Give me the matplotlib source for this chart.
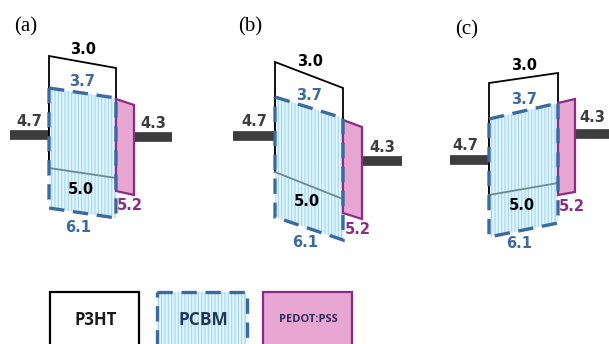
import matplotlib
matplotlib.use("Agg")
import matplotlib.pyplot as plt
from matplotlib.patches import Polygon, Rectangle

# ---- data (energy levels, eV) ----
panel_labels = ['(a)', '(b)', '(c)']
p3ht_lumo, p3ht_homo = '3.0', '5.0'
pcbm_lumo, pcbm_homo = '3.7', '6.1'
pedot_level = '5.2'
left_electrode, right_electrode = '4.7', '4.3'
legend_names = ['P3HT', 'PCBM', 'PEDOT:PSS']

# ---- schematic layout (pixel-like units of the canvas) ----
# x: left edge of active layer, right edge, right edge of PEDOT, electrode start, electrode end
xs = [(49, 116, 134, 10, 172), (275, 343, 362, 233, 402), (489, 558, 575, 450, 612)]
# level heights at (left, right) edge
p3ht_top = [(56, 68), (62, 88), (83, 73)]
p3ht_bot = [(168, 178), (172, 199), (195, 183)]
pcbm_top = [(88, 98), (97, 118), (119, 103)]
pcbm_bot = [(208, 218), (217, 240), (237, 223)]
pedot_top = [(99, 105), (120, 127), (103, 99)]
pedot_bot = [(191, 195), (213, 219), (195, 192)]
elec_y = [(135, 137), (136, 161), (160, 134)]
panel_label_pos = [(26, 27), (250, 27), (467, 30)]

W, H = 609, 344
fig = plt.figure(figsize=(W / 100, H / 100), dpi=100)
ax = fig.add_axes([0, 0, 1, 1])
ax.set_xlim(0, W)
ax.set_ylim(H, 0)
ax.axis('off')

plt.rcParams['hatch.linewidth'] = 0.9

BLUE = '#3b6aa0'
STRIPE = '#a6daf0'
BG = '#e3f5fc'
PINK = '#e8a6d3'
PURPLE = '#8a2b86'
DARK = '#3d3d3d'
GRAYLINE = '#6d8a8e'
lab_font = dict(family='DejaVu Sans', fontweight='bold', fontsize=10.5)

for i in range(3):
    x0, x1, x2, eL, eR = xs[i]
    # electrodes
    ax.plot([eL, x0], [elec_y[i][0]] * 2, color=DARK, lw=7.0, solid_capstyle='butt', zorder=1)
    ax.plot([x2, eR], [elec_y[i][1]] * 2, color=DARK, lw=7.0, solid_capstyle='butt', zorder=1)
    # P3HT outline
    p3 = Polygon([(x0, p3ht_bot[i][0]), (x0, p3ht_top[i][0]), (x1, p3ht_top[i][1]),
                  (x1, p3ht_bot[i][1])], closed=False, fill=True, facecolor='white',
                 edgecolor='black', lw=1.3, zorder=2)
    ax.add_patch(p3)
    # PCBM fill with stripes
    pc_pts = [(x0, pcbm_top[i][0]), (x1, pcbm_top[i][1]), (x1, pcbm_bot[i][1]), (x0, pcbm_bot[i][0])]
    ax.add_patch(Polygon(pc_pts, closed=True, facecolor=BG, edgecolor='none', lw=0, zorder=3))
    ax.add_patch(Polygon(pc_pts, closed=True, facecolor='none', edgecolor=STRIPE, lw=0,
                         hatch='|||||', zorder=3.1))
    # P3HT edges seen through PCBM
    ax.plot([x0, x0], [pcbm_top[i][0], p3ht_bot[i][0]], color='black', lw=1.3, zorder=3.2)
    ax.plot([x1, x1], [pcbm_top[i][1], p3ht_bot[i][1]], color='black', lw=1.3, zorder=3.2)
    ax.plot([x0, x1], [p3ht_bot[i][0], p3ht_bot[i][1]], color=GRAYLINE, lw=1.3, zorder=3.3)
    # PCBM dashed outline
    ax.add_patch(Polygon(pc_pts, closed=True, facecolor='none', edgecolor=BLUE, lw=2.4,
                         linestyle=(0, (4.6, 2.6)), zorder=4))
    # PEDOT:PSS
    ax.add_patch(Polygon([(x1, pedot_top[i][0]), (x2, pedot_top[i][1]), (x2, pedot_bot[i][1]),
                          (x1, pedot_bot[i][0])], closed=True, facecolor=PINK,
                         edgecolor=PURPLE, lw=1.6, zorder=3.5))
    xm = (x0 + x1) / 2
    # labels
    ax.text(xm + 1, (p3ht_top[i][0] + p3ht_top[i][1]) / 2 - 13, p3ht_lumo, color='black',
            ha='center', va='center', zorder=6, **lab_font)
    ax.text(xm, (pcbm_top[i][0] + pcbm_top[i][1]) / 2 - 12, pcbm_lumo, color=BLUE,
            ha='center', va='center', zorder=6, **lab_font)
    ax.text(xm - 2, (p3ht_bot[i][0] + p3ht_bot[i][1]) / 2 + 16, p3ht_homo, color='black',
            ha='center', va='center', zorder=6, **lab_font)
    ax.text(xm - 4, (pcbm_bot[i][0] + pcbm_bot[i][1]) / 2 + 14, pcbm_homo, color=BLUE,
            ha='center', va='center', zorder=6, **lab_font)
    ax.text((x1 + x2) / 2 + 5, (pedot_bot[i][0] + pedot_bot[i][1]) / 2 + 13, pedot_level,
            color=PURPLE, ha='center', va='center', zorder=6, **lab_font)
    ax.text((eL + x0) / 2 - (4 if i == 2 else 0), elec_y[i][0] - 14, left_electrode, color=DARK,
            ha='center', va='center', zorder=6, **lab_font)
    ax.text(min((x2 + eR) / 2, 592), elec_y[i][1] - (17 if i == 2 else 13), right_electrode,
            color=DARK, ha='center', va='center', zorder=6, **lab_font)
    ax.text(*panel_label_pos[i], panel_labels[i], family='Liberation Serif', fontsize=15,
            ha='center', va='center', color='black', zorder=6)

# ---- legend boxes ----
leg_x = [(50, 139), (157, 247), (263, 352)]
ly0, ly1 = 292, 360
ax.add_patch(Rectangle((leg_x[0][0], ly0), leg_x[0][1] - leg_x[0][0], ly1 - ly0,
                       facecolor='white', edgecolor='black', lw=1.6, zorder=2))
ax.add_patch(Rectangle((leg_x[1][0], ly0), leg_x[1][1] - leg_x[1][0], ly1 - ly0,
                       facecolor=BG, edgecolor='none', zorder=2))
ax.add_patch(Rectangle((leg_x[1][0], ly0), leg_x[1][1] - leg_x[1][0], ly1 - ly0,
                       facecolor='none', edgecolor=STRIPE, lw=0, hatch='|||||', zorder=2.1))
ax.add_patch(Rectangle((leg_x[1][0], ly0), leg_x[1][1] - leg_x[1][0], ly1 - ly0,
                       facecolor='none', edgecolor=BLUE, lw=2.4, linestyle=(0, (4.6, 2.6)),
                       zorder=2.2))
ax.add_patch(Rectangle((leg_x[2][0], ly0), leg_x[2][1] - leg_x[2][0], ly1 - ly0,
                       facecolor=PINK, edgecolor=PURPLE, lw=1.6, zorder=2))
leg_colors = ['#1a1a1a', '#1f3658', '#2e2a5c']
leg_sizes = [12, 12.5, 8]
for (a, b), name, c, s in zip(leg_x, legend_names, leg_colors, leg_sizes):
    ax.text((a + b) / 2 + 1, 320, name, family='Open Sans', fontweight='bold', fontsize=s,
            color=c, ha='center', va='center', zorder=5)

fig.savefig('out.png', dpi=100)
